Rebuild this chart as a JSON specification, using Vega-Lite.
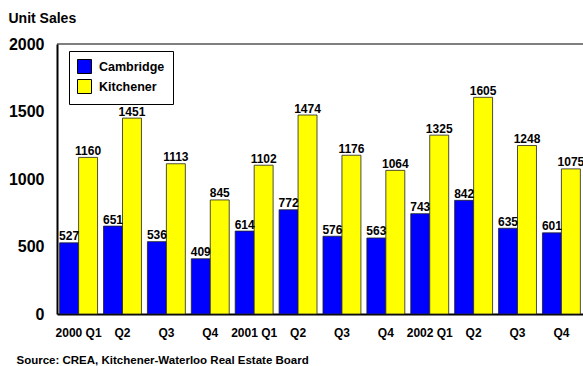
{
  "$schema": "https://vega.github.io/schema/vega-lite/v6.json",
  "width": 526,
  "height": 270,
  "autosize": {"type": "none"},
  "padding": {"left": 57, "top": 44, "right": 0, "bottom": 52},
  "background": "white",
  "config": {
    "view": {"stroke": null},
    "font": "Liberation Sans",
    "axis": {"labelFont": "Liberation Sans", "titleFont": "Liberation Sans", "labelColor": "black", "titleColor": "black"},
    "legend": {"labelFont": "Liberation Sans"}
  },
  "data": {
    "values": [
      {"quarter": "2000 Q1", "city": "Cambridge", "sales": 527},
      {"quarter": "2000 Q1", "city": "Kitchener", "sales": 1160},
      {"quarter": "2000 Q2", "city": "Cambridge", "sales": 651},
      {"quarter": "2000 Q2", "city": "Kitchener", "sales": 1451},
      {"quarter": "2000 Q3", "city": "Cambridge", "sales": 536},
      {"quarter": "2000 Q3", "city": "Kitchener", "sales": 1113},
      {"quarter": "2000 Q4", "city": "Cambridge", "sales": 409},
      {"quarter": "2000 Q4", "city": "Kitchener", "sales": 845},
      {"quarter": "2001 Q1", "city": "Cambridge", "sales": 614},
      {"quarter": "2001 Q1", "city": "Kitchener", "sales": 1102},
      {"quarter": "2001 Q2", "city": "Cambridge", "sales": 772},
      {"quarter": "2001 Q2", "city": "Kitchener", "sales": 1474},
      {"quarter": "2001 Q3", "city": "Cambridge", "sales": 576},
      {"quarter": "2001 Q3", "city": "Kitchener", "sales": 1176},
      {"quarter": "2001 Q4", "city": "Cambridge", "sales": 563},
      {"quarter": "2001 Q4", "city": "Kitchener", "sales": 1064},
      {"quarter": "2002 Q1", "city": "Cambridge", "sales": 743},
      {"quarter": "2002 Q1", "city": "Kitchener", "sales": 1325},
      {"quarter": "2002 Q2", "city": "Cambridge", "sales": 842},
      {"quarter": "2002 Q2", "city": "Kitchener", "sales": 1605},
      {"quarter": "2002 Q3", "city": "Cambridge", "sales": 635},
      {"quarter": "2002 Q3", "city": "Kitchener", "sales": 1248},
      {"quarter": "2002 Q4", "city": "Cambridge", "sales": 601},
      {"quarter": "2002 Q4", "city": "Kitchener", "sales": 1075}
    ]
  },
  "layer": [
    {
      "mark": {"type": "bar", "stroke": "#222222", "strokeWidth": 0.8},
      "encoding": {
        "x": {
          "field": "quarter", "type": "nominal", "sort": null,
          "scale": {"paddingInner": 0.136, "paddingOuter": 0.06},
          "axis": {
            "orient": "bottom", "labelAngle": 0, "ticks": false,
            "domainColor": "black", "domainWidth": 2,
            "labelFontSize": 12, "labelFontWeight": "bold", "labelPadding": 13,
            "labelExpr": "indexof(datum.value, 'Q1') >= 0 ? datum.value : slice(datum.value, 5)",
            "title": "Source: CREA, Kitchener-Waterloo Real Estate Board",
            "titleFontSize": 11.5, "titleFontWeight": "bold",
            "titleX": -41, "titleY": 49, "titleAlign": "left", "titleBaseline": "alphabetic", "titleAnchor": "start"
          }
        },
        "xOffset": {"field": "city", "type": "nominal", "scale": {"paddingInner": 0, "paddingOuter": 0}},
        "y": {
          "field": "sales", "type": "quantitative",
          "scale": {"domain": [0, 2000], "nice": false},
          "axis": {
            "values": [0, 500, 1000, 1500, 2000], "format": "d", "grid": false, "ticks": false,
            "domainColor": "black", "domainWidth": 2,
            "labelFontSize": 16, "labelFontWeight": "bold", "labelPadding": 13,
            "title": "Unit Sales", "titleAngle": 0, "titleFontSize": 14, "titleFontWeight": "bold",
            "titleX": -49, "titleY": -22, "titleAlign": "left", "titleBaseline": "alphabetic"
          }
        },
        "color": {
          "field": "city", "type": "nominal",
          "scale": {"domain": ["Cambridge", "Kitchener"], "range": ["#0000FF", "#FFFF00"]},
          "legend": {
            "title": null, "orient": "none", "legendX": 12, "legendY": 7,
            "padding": 8, "strokeColor": "black", "fillColor": "white",
            "symbolType": "square", "symbolSize": 196, "symbolStrokeColor": "black", "symbolStrokeWidth": 1,
            "symbolOpacity": 1,
            "labelFontSize": 12.5, "labelFontWeight": "bold", "labelColor": "black", "labelOffset": 7, "rowPadding": 1
          }
        }
      }
    },
    {
      "mark": {"type": "text", "baseline": "alphabetic", "dy": -2.5, "fontSize": 12, "fontWeight": "bold", "color": "black"},
      "encoding": {
        "x": {"field": "quarter", "type": "nominal", "sort": null},
        "xOffset": {"field": "city", "type": "nominal"},
        "y": {"field": "sales", "type": "quantitative"},
        "text": {"field": "sales", "type": "quantitative"}
      }
    },
    {
      "data": {"values": [{}]},
      "mark": {"type": "rule", "color": "black", "strokeWidth": 1},
      "encoding": {"y": {"datum": 2000}}
    }
  ]
}
